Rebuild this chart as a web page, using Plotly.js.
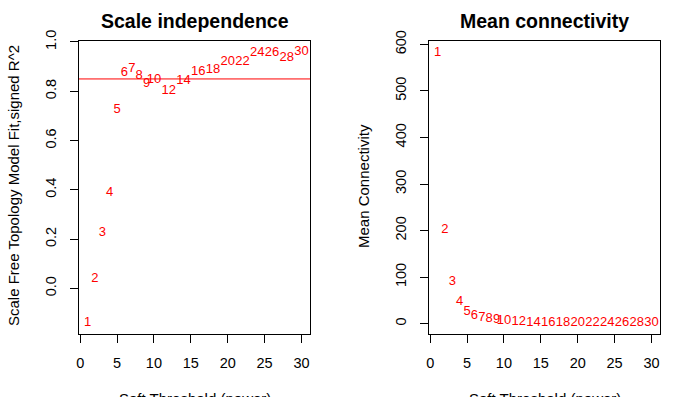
<!DOCTYPE html>
<html>
<head>
<meta charset="utf-8">
<script src="https://cdn.plot.ly/plotly-3.0.1.min.js"></script>
<style>html,body{margin:0;padding:0;background:#fff;}#chart{width:700px;height:397px;}</style>
</head>
<body>
<div id="chart"></div>
<script>
const powers = [1,2,3,4,5,6,7,8,9,10,12,14,16,18,20,22,24,26,28,30];
const powerLabels = powers.map(String);
const scaleFreeFit = [-0.141,0.040,0.227,0.388,0.726,0.874,0.890,0.863,0.829,0.847,0.802,0.843,0.880,0.886,0.920,0.920,0.957,0.957,0.937,0.960];
const meanConnectivity = [583,202,89.5,47,25,17,13,10,7.5,5.5,3.6,2.6,2.0,1.7,1.5,1.3,1.2,1.1,1.0,1.0];
const cutHeight = 0.85;
const xTicks = [0,5,10,15,20,25,30];
const yTicksLeft = [0.0,0.2,0.4,0.6,0.8,1.0];
const yTicksRight = [0,100,200,300,400,500,600];
const titles = ['Scale independence', 'Mean connectivity'];
const xTitle = 'Soft Threshold (power)';
const yTitles = ['Scale Free Topology Model Fit,signed R^2', 'Mean Connectivity'];

const FONT = 'Liberation Sans, Arial, Helvetica, sans-serif';
const red = '#ff0000';

const traces = [
  {x: powers, y: scaleFreeFit, text: powerLabels, mode: 'text', type: 'scatter',
   textposition: 'middle center', textfont: {color: red, size: 13, family: FONT},
   xaxis: 'x', yaxis: 'y', hoverinfo: 'x+y', showlegend: false},
  {x: powers, y: meanConnectivity, text: powerLabels, mode: 'text', type: 'scatter',
   textposition: 'middle center', textfont: {color: red, size: 13, family: FONT},
   xaxis: 'x2', yaxis: 'y2', hoverinfo: 'x+y', showlegend: false}
];

function xAxis(domain, anchor) {
  return {domain: domain, anchor: anchor, range: [-0.16, 31.16], tickvals: xTicks,
    ticktext: xTicks.map(String), ticks: 'outside', ticklen: 8, tickcolor: '#000',
    ticklabelstandoff: 8,
    showline: true, mirror: true, linecolor: '#000', linewidth: 1, showgrid: false,
    zeroline: false, tickfont: {size: 14.5, family: FONT, color: '#000'}};
}
function yAxis(domain, anchor, range, ticks, fmt) {
  return {domain: domain, anchor: anchor, range: range, tickvals: ticks,
    ticktext: ticks.map(fmt), ticks: 'outside', ticklen: 8, tickcolor: '#000', tickangle: -90,
    ticklabelstandoff: 8,
    showline: true, mirror: true, linecolor: '#000', linewidth: 1, showgrid: false,
    zeroline: false, tickfont: {size: 14.5, family: FONT, color: '#000'}};
}

const panelX = [[79, 310], [429, 660]];
const annotations = [];
panelX.forEach((p, i) => {
  const cx = (p[0] + p[1]) / 2 / 700;
  annotations.push({text: '<b>' + titles[i] + '</b>', xref: 'paper', yref: 'paper', x: cx, y: 1 - 21/397,
    xanchor: 'center', yanchor: 'middle', showarrow: false, font: {size: 19.5, family: FONT, color: '#000'}});
  annotations.push({text: xTitle, xref: 'paper', yref: 'paper', x: cx, y: 1 - 398.5/397,
    xanchor: 'center', yanchor: 'middle', showarrow: false, font: {size: 15, family: FONT, color: '#000'}});
  annotations.push({text: yTitles[i], xref: 'paper', yref: 'paper', x: (p[0] - 66) / 700, y: 1 - 186/397,
    xanchor: 'center', yanchor: 'middle', textangle: -90, showarrow: false, font: {size: 15, family: FONT, color: '#000'}});
});

const layout = {
  width: 700, height: 397,
  margin: {l: 0, r: 0, t: 0, b: 0},
  paper_bgcolor: '#fff', plot_bgcolor: '#fff',
  showlegend: false,
  xaxis: xAxis([79/700, 310/700], 'y'),
  yaxis: yAxis([1-334/397, 1-41/397], 'x', [-0.185, 1.004], yTicksLeft, v => v.toFixed(1)),
  xaxis2: xAxis([429/700, 660/700], 'y2'),
  yaxis2: yAxis([1-334/397, 1-41/397], 'x2', [-22.3, 607.3], yTicksRight, v => String(v)),
  shapes: [{type: 'line', xref: 'x domain', yref: 'y', x0: 0, x1: 1, y0: cutHeight, y1: cutHeight,
            line: {color: red, width: 1}}],
  annotations: annotations
};

Plotly.newPlot('chart', traces, layout, {displayModeBar: false, staticPlot: true});
</script>
</body>
</html>
